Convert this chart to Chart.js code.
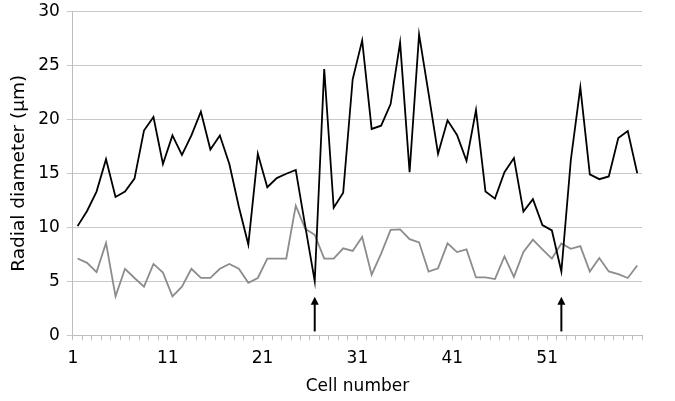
<!DOCTYPE html>
<html>
<head>
<meta charset="utf-8">
<script src="https://cdn.jsdelivr.net/npm/chart.js@4/dist/chart.umd.min.js"></script>
<style>
  html, body { margin: 0; padding: 0; background: #fff; }
  #wrap { width: 675px; height: 401px; }
</style>
</head>
<body>
<div id="wrap"><canvas id="chartDiametro"></canvas></div>
<script>
// valores (células 1..60)
const cells = Array.from({ length: 60 }, (_, i) => i + 1);
const blackSeries = [
  10.1, 11.5, 13.3, 16.3, 12.8, 13.3, 14.5, 18.95, 20.2, 15.85,
  18.5, 16.7, 18.5, 20.7, 17.2, 18.5, 15.85, 11.9, 8.4, 16.8,
  13.7, 14.55, 14.95, 15.3, 10.1, 5.0, 24.65, 11.8, 13.2, 23.7,
  27.3, 19.1, 19.4, 21.4, 27.1, 15.1, 27.85, 22.4, 16.8, 19.9,
  18.55, 16.15, 20.85, 13.3, 12.65, 15.1, 16.4, 11.45, 12.6, 10.2,
  9.7, 5.9, 16.25, 22.95, 14.9, 14.45, 14.7, 18.25, 18.9, 15.0
];
const graySeries = [
  7.1, 6.7, 5.85, 8.55, 3.6, 6.15, 5.3, 4.5, 6.6, 5.8,
  3.6, 4.5, 6.15, 5.3, 5.3, 6.15, 6.6, 6.15, 4.85, 5.3,
  7.1, 7.1, 7.1, 12.0, 9.85, 9.3, 7.1, 7.1, 8.05, 7.8,
  9.1, 5.6, 7.55, 9.75, 9.8, 8.9, 8.6, 5.9, 6.2, 8.5,
  7.7, 7.95, 5.35, 5.35, 5.2, 7.3, 5.4, 7.7, 8.85, 7.95,
  7.1, 8.5, 8.0, 8.25, 5.9, 7.15, 5.9, 5.65, 5.3, 6.45
];
const xLabels = [1, 11, 21, 31, 41, 51];
const yTicks = [0, 5, 10, 15, 20, 25, 30];
const arrowCells = [26, 52];
const arrowRange = [0.35, 3.55]; // base e ponta da seta, em µm

const FONT = 'DejaVu Sans';

// setas verticais abaixo dos mínimos
const arrowPlugin = {
  id: 'arrows',
  afterDatasetsDraw(chart) {
    const { ctx, scales: { x, y } } = chart;
    ctx.save();
    ctx.strokeStyle = '#000';
    ctx.fillStyle = '#000';
    ctx.lineWidth = 2;
    arrowCells.forEach(c => {
      const px = x.getPixelForValue(c);
      const yb = y.getPixelForValue(arrowRange[0]);
      const yt = y.getPixelForValue(arrowRange[1]);
      ctx.beginPath();
      ctx.moveTo(px, yb);
      ctx.lineTo(px, yt + 6);
      ctx.stroke();
      ctx.beginPath();
      ctx.moveTo(px, yt);
      ctx.lineTo(px - 4, yt + 8);
      ctx.lineTo(px + 4, yt + 8);
      ctx.closePath();
      ctx.fill();
    });
    ctx.restore();
  }
};

new Chart(document.getElementById('chartDiametro'), {
  type: 'line',
  data: {
    datasets: [
      {
        data: cells.map((c, i) => ({ x: c, y: blackSeries[i] })),
        borderColor: '#000',
        borderWidth: 1.8,
        pointRadius: 0,
        tension: 0
      },
      {
        data: cells.map((c, i) => ({ x: c, y: graySeries[i] })),
        borderColor: '#8c8c8c',
        borderWidth: 1.8,
        pointRadius: 0,
        tension: 0
      }
    ]
  },
  options: {
    responsive: true,
    maintainAspectRatio: false,
    animation: false,
    layout: { padding: { top: 11, right: 33, left: 0, bottom: 0 } },
    plugins: { legend: { display: false }, tooltip: { enabled: false } },
    scales: {
      x: {
        type: 'linear',
        min: 0.5,
        max: cells.length + 0.5,
        afterBuildTicks: axis => {
          axis.ticks = cells.concat([cells.length + 1]).map(c => ({ value: c - 0.5 }));
        },
        grid: { drawOnChartArea: false, drawTicks: true, tickLength: 5, color: '#bdbdbd' },
        border: { display: true, color: '#bdbdbd' },
        ticks: {
          autoSkip: false,
          maxRotation: 0,
          padding: 8,
          color: '#000',
          font: { family: FONT, size: 17 },
          callback: v => (xLabels.includes(v + 0.5) ? String(v + 0.5) : '')
        },
        title: {
          display: true,
          text: 'Cell number',
          color: '#000',
          font: { family: FONT, size: 17 },
          padding: { top: 0, bottom: 4 }
        }
      },
      y: {
        min: 0,
        max: 30,
        afterBuildTicks: axis => { axis.ticks = yTicks.map(v => ({ value: v })); },
        grid: { color: '#c8c8c8', tickLength: 6 },
        border: { display: true, color: '#bdbdbd' },
        ticks: {
          padding: 7,
          color: '#000',
          font: { family: FONT, size: 17, lineHeight: 0.5 }
        },
        title: {
          display: true,
          text: 'Radial diameter (µm)',
          color: '#000',
          font: { family: FONT, size: 18.5 },
          padding: { top: 8, bottom: 1 }
        }
      }
    }
  },
  plugins: [arrowPlugin]
});
</script>
</body>
</html>
